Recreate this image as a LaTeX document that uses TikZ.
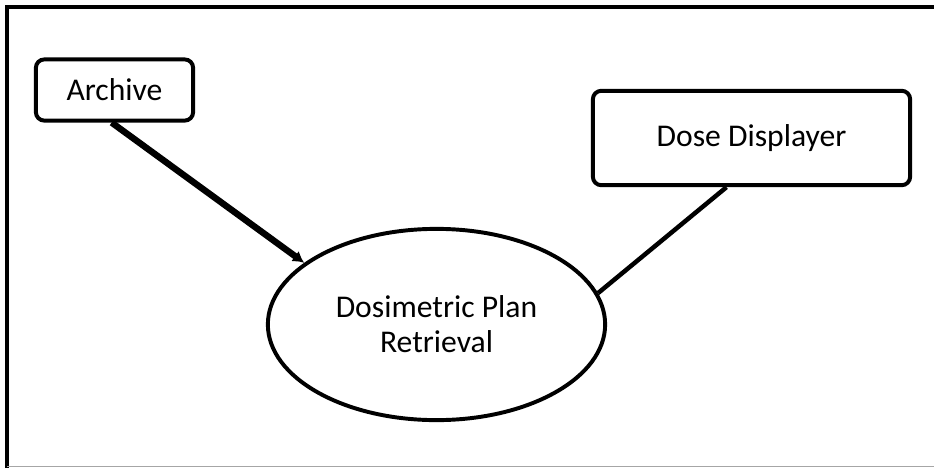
\documentclass[tikz,border=0pt]{standalone}
\usepackage{fontspec}
\setmainfont{Carlito}
\usepackage{tikz}
\usetikzlibrary{arrows.meta}
\usetikzlibrary{shapes.geometric}
\tikzset{>=latex}
\tikzstyle{block}=[draw,line width=2.8pt,rounded corners=6pt,align=center,inner sep=0pt]
\tikzstyle{oval}=[draw,ellipse,line width=2.8pt,align=center,inner sep=0pt]
\tikzstyle{feed}=[line width=4.6pt,-{Latex[length=8pt,width=9pt]}]
\tikzstyle{link}=[line width=3.2pt]

\begin{document}
\begin{tikzpicture}[x=0.025cm,y=-0.025cm,font=\fontsize{22.5}{25}\selectfont]
      \useasboundingbox (0,0) rectangle (934,468);
      \fill[white] (-10,-10) rectangle (950,480);
      \draw[line width=2.8pt] (7,468) -- (7,7) -- (934,7);
      \draw[gray!70,line width=0.8pt] (7,466.6) -- (934,466.6);
      \node[block,minimum width=3.93cm,minimum height=1.53cm] (archive) at (114.5,90) {Archive};
      \node[block,minimum width=7.93cm,minimum height=2.36cm] (displayer) at (751.5,138) {Dose Displayer};
      \node[oval,minimum width=8.43cm,minimum height=4.78cm] (retrieval) at (436.5,324.5) {Dosimetric Plan\\Retrieval};
      \draw[feed] (archive.265) -- (retrieval.155);
      \draw[link] (displayer.243) -- (retrieval.11);
    \end{tikzpicture}
\end{document}
